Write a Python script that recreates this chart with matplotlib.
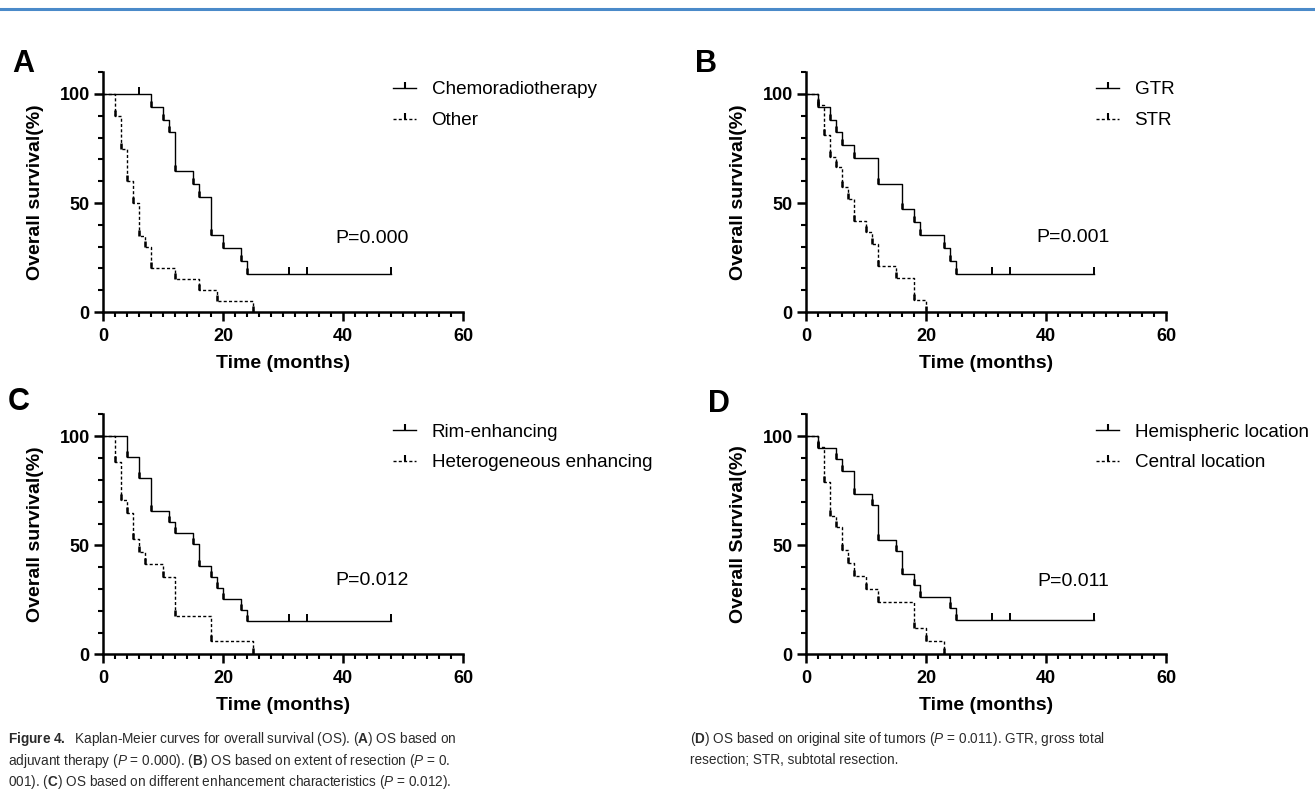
import matplotlib
matplotlib.use('Agg')
import matplotlib.pyplot as plt
from matplotlib.lines import Line2D

plt.rcParams['font.family'] = ['Liberation Sans', 'DejaVu Sans']
plt.rcParams['mathtext.fontset'] = 'custom'
plt.rcParams['mathtext.rm'] = 'Liberation Sans'
plt.rcParams['mathtext.it'] = 'Liberation Sans:italic'
plt.rcParams['mathtext.bf'] = 'Liberation Sans:bold'

# ---------------- data (months, survival %) ----------------
A_labels = ["Chemoradiotherapy", "Other"]
A_solid_t = [8, 10, 11, 12, 15, 16, 18, 20, 23, 24]
A_solid_s = [94.1, 88.2, 82.4, 64.7, 58.8, 52.9, 35.3, 29.4, 23.5, 17.6]
A_solid_censor = [6, 31, 34, 48]
A_dash_t = [2, 3, 4, 5, 6, 7, 8, 12, 16, 19, 25]
A_dash_s = [90, 75, 60, 50, 35, 30, 20, 15, 10, 5, 0]
A_p = "P=0.000"

B_labels = ["GTR", "STR"]
B_solid_t = [2, 4, 5, 6, 8, 12, 16, 18, 19, 23, 24, 25]
B_solid_s = [94.1, 88.2, 82.4, 76.5, 70.6, 58.8, 47.1, 41.2, 35.3, 29.4, 23.5, 17.6]
B_solid_censor = [31, 34, 48]
B_dash_t = [2, 3, 4, 5, 6, 7, 8, 10, 11, 12, 15, 18, 20]
B_dash_s = [95.0, 81.0, 71.3, 66.7, 57.4, 51.8, 41.7, 36.5, 31.3, 20.9, 15.7, 5.3, 0]
B_p = "P=0.001"

C_labels = ["Rim-enhancing", "Heterogeneous enhancing"]
C_solid_t = [4, 6, 8, 11, 12, 15, 16, 18, 19, 20, 23, 24]
C_solid_s = [90.4, 81.0, 65.7, 60.5, 55.7, 50.6, 40.5, 35.6, 30.3, 25.4, 20.3, 15.3]
C_solid_censor = [31, 34, 48]
C_dash_t = [2, 3, 4, 5, 6, 7, 10, 12, 18, 25]
C_dash_s = [88.2, 70.6, 64.7, 52.9, 47.1, 41.2, 35.3, 17.6, 5.9, 0]
C_p = "P=0.012"

D_labels = ["Hemispheric location", "Central location"]
D_solid_t = [2, 5, 6, 8, 11, 12, 15, 16, 18, 19, 24, 25]
D_solid_s = [94.7, 89.5, 84.2, 73.7, 68.4, 52.6, 47.4, 36.8, 31.6, 26.3, 21.1, 15.8]
D_solid_censor = [31, 34, 48]
D_dash_t = [2, 3, 4, 5, 6, 7, 8, 10, 12, 18, 20, 23]
D_dash_s = [95.0, 79.0, 63.5, 58.3, 47.9, 41.7, 36.1, 30.0, 23.9, 12.2, 6.3, 0]
D_p = "P=0.011"

x_major = [0, 20, 40, 60]
y_major = [0, 50, 100]

caption_left = [
    r"$\mathbf{Figure\ 4.}$  Kaplan-Meier curves for overall survival (OS). ($\mathbf{A}$) OS based on",
    r"adjuvant therapy ($\mathit{P}$ = 0.000). ($\mathbf{B}$) OS based on extent of resection ($\mathit{P}$ = 0.",
    r"001). ($\mathbf{C}$) OS based on different enhancement characteristics ($\mathit{P}$ = 0.012).",
]
caption_right = [
    r"($\mathbf{D}$) OS based on original site of tumors ($\mathit{P}$ = 0.011). GTR, gross total",
    r"resection; STR, subtotal resection.",
]

# ---------------- figure ----------------
W, H = 1315, 811
fig = plt.figure(figsize=(W / 100, H / 100), dpi=100)

DASH = (0, (2.2, 1.6))


def level_at(t_list, s_list, c):
    lev = 100.0
    for t, s in zip(t_list, s_list):
        if t <= c:
            lev = s
    return lev


def km(ax, t, s, censor, ls):
    x = [0] + list(t)
    y = [100] + list(s)
    if censor:
        x.append(max(censor))
        y.append(y[-1])
    ax.step(x, y, where='post', color='k', lw=1.0, ls=ls, clip_on=False)
    ax.plot(t, s, ls='none', marker=2, ms=4, mew=1.8, color='k', clip_on=False)
    if censor:
        cy = [level_at(t, s, c) for c in censor]
        ax.plot(censor, cy, ls='none', marker=2, ms=5, mew=1.4, color='k', clip_on=False)


def panel(left_px, zero_px, letter, letter_xy, data, ylabel):
    ax = fig.add_axes([left_px / W, (H - zero_px) / H, 360 / W, 239.8 / H])
    (st, ss, sc, dt, ds, labels, ptxt, pxy) = data
    km(ax, st, ss, sc, '-')
    km(ax, dt, ds, [], DASH)
    ax.set_xlim(0, 60)
    ax.set_ylim(0, 110)
    for sp in ['top', 'right']:
        ax.spines[sp].set_visible(False)
    for sp in ['left', 'bottom']:
        ax.spines[sp].set_linewidth(1.8)
    ax.set_xticks(x_major)
    ax.set_xticks(range(0, 61, 2), minor=True)
    ax.set_yticks(y_major)
    ax.set_yticks(range(0, 111, 10), minor=True)
    ax.tick_params(which='major', length=6.5, width=1.8, labelsize=13, pad=3)
    ax.tick_params(which='minor', length=3.5, width=1.5)
    ax.tick_params(axis='x', which='major', pad=5)
    for lab in ax.get_xticklabels() + ax.get_yticklabels():
        lab.set_fontweight('bold')
    ax.set_xlabel("Time (months)", fontsize=14, fontweight='bold')
    ax.xaxis.set_label_coords(0.5, -0.18)
    ax.set_ylabel(ylabel, fontsize=14, fontweight='bold')
    ax.yaxis.set_label_coords(-0.164, 0.5)
    ax.text(pxy[0], pxy[1], ptxt, ha='center', va='center', fontsize=14)
    handles = [
        Line2D([0], [0], color='k', lw=1.0, ls='-', marker=2, ms=4, mew=1.5),
        Line2D([0], [0], color='k', lw=1.0, ls=DASH, marker=2, ms=4, mew=1.5),
    ]
    ax.legend(handles, labels, loc='upper left', bbox_to_anchor=(0.805, 0.963),
              frameon=False, fontsize=13.6, handlelength=1.25, handletextpad=0.8,
              labelspacing=0.72, borderpad=0, borderaxespad=0)
    fig.text(letter_xy[0] / W, 1 - letter_xy[1] / H, letter, fontsize=22,
             fontweight='bold', va='baseline', ha='left')
    return ax


panel(103, 312, 'A', (12, 72),
      (A_solid_t, A_solid_s, A_solid_censor, A_dash_t, A_dash_s, A_labels, A_p, (44.8, 33.5)),
      "Overall survival(%)")
panel(806, 312, 'B', (695, 72),
      (B_solid_t, B_solid_s, B_solid_censor, B_dash_t, B_dash_s, B_labels, B_p, (44.5, 34.3)),
      "Overall survival(%)")
panel(103, 654.3, 'C', (8, 410),
      (C_solid_t, C_solid_s, C_solid_censor, C_dash_t, C_dash_s, C_labels, C_p, (44.8, 34.0)),
      "Overall survival(%)")
panel(806, 654.3, 'D', (708, 412),
      (D_solid_t, D_solid_s, D_solid_censor, D_dash_t, D_dash_s, D_labels, D_p, (44.5, 33.3)),
      "Overall Survival(%)")

# top rule
fig.add_artist(Line2D([0, 1], [1 - 8.5 / H, 1 - 8.5 / H], transform=fig.transFigure,
                      color='#4a8ac9', lw=2.2))

# caption
cap_y0 = 739
cap_dy = 21.5
for i, line in enumerate(caption_left):
    fig.text(8 / W, 1 - (cap_y0 + i * cap_dy) / H, line, fontsize=9.8, color='#2b2b2b',
             va='center', ha='left')
for i, line in enumerate(caption_right):
    fig.text(690 / W, 1 - (cap_y0 + i * cap_dy) / H, line, fontsize=9.8, color='#2b2b2b',
             va='center', ha='left')

fig.savefig('out.png', dpi=100)
